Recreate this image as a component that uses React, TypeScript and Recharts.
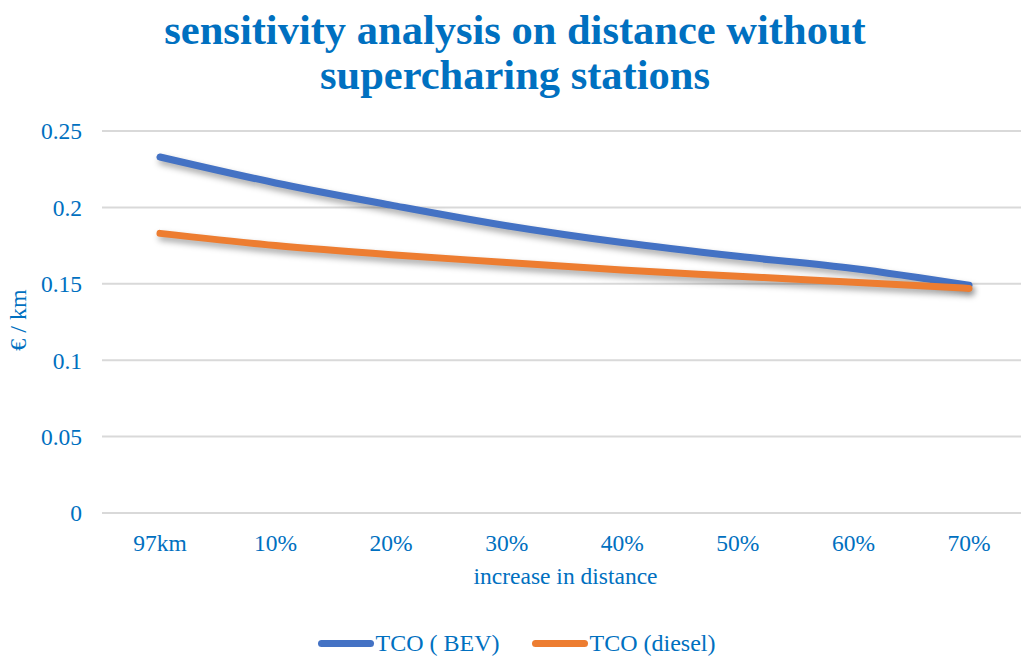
import React from 'react';
import { LineChart, Line, XAxis, YAxis, CartesianGrid, Label } from 'recharts';

const categories = ['97km', '10%', '20%', '30%', '40%', '50%', '60%', '70%'];
const tcoBev = [0.233, 0.216, 0.2015, 0.188, 0.177, 0.168, 0.16, 0.149];
const tcoDiesel = [0.183, 0.175, 0.169, 0.164, 0.159, 0.155, 0.151, 0.147];
const yTicks = [0, 0.05, 0.1, 0.15, 0.2, 0.25];

const data = categories.map((name, i) => ({
  name,
  bev: tcoBev[i],
  diesel: tcoDiesel[i],
}));

const BLUE_TEXT = '#0070C0';
const FONT = '"Liberation Serif", "Times New Roman", serif';

const legendItems = [
  { label: 'TCO ( BEV)', color: '#4472C4' },
  { label: 'TCO (diesel)', color: '#ED7D31' },
];

export default function App() {
  return (
    <div style={{ position: 'absolute', left: 0, top: 0, width: 1021, height: 656, background: '#fff', overflow: 'hidden' }}>
      <style>{`.tco-line path { filter: drop-shadow(2px 4px 3px rgba(0,0,0,0.35)); }`}</style>
      <div
        style={{
          position: 'absolute',
          top: 7,
          left: 0,
          width: 1030,
          textAlign: 'center',
          fontFamily: FONT,
          fontWeight: 'bold',
          fontSize: 42.5,
          lineHeight: '45px',
          color: BLUE_TEXT,
        }}
      >
        sensitivity analysis on distance without
        <br />
        supercharing stations
      </div>
      <LineChart
        width={1021}
        height={656}
        data={data}
        margin={{ top: 131, right: 0, bottom: 73, left: 0 }}
      >
        <CartesianGrid vertical={false} stroke="#D9D9D9" strokeWidth={2} />
        <XAxis
          dataKey="name"
          axisLine={false}
          tickLine={false}
          tickSize={0}
          tickMargin={21}
          padding={{ left: 58, right: 52 }}
          tick={{ fill: BLUE_TEXT, fontSize: 23.5, fontFamily: FONT }}
          height={70}
        >
          <Label
            value="increase in distance"
            position="insideBottom"
            offset={0}
            dx={4}
            dy={1}
            style={{ fill: BLUE_TEXT, fontSize: 23.5, fontFamily: FONT }}
          />
        </XAxis>
        <YAxis
          width={102}
          domain={[0, 0.25]}
          ticks={yTicks}
          axisLine={false}
          tickLine={false}
          tickSize={0}
          tickMargin={20}
          tick={{ fill: BLUE_TEXT, fontSize: 23.5, fontFamily: FONT }}
        >
          <Label
            value="€ / km"
            angle={-90}
            position="insideLeft"
            offset={17}
            dy={-2}
            style={{ fill: BLUE_TEXT, fontSize: 24, fontFamily: FONT, textAnchor: 'middle' }}
          />
        </YAxis>
        <Line
          className="tco-line"
          type="monotone"
          dataKey="bev"
          name="TCO ( BEV)"
          stroke="#4472C4"
          strokeWidth={7}
          strokeLinecap="round"
          dot={false}
          activeDot={false}
          isAnimationActive={false}
        />
        <Line
          className="tco-line"
          type="monotone"
          dataKey="diesel"
          name="TCO (diesel)"
          stroke="#ED7D31"
          strokeWidth={7}
          strokeLinecap="round"
          dot={false}
          activeDot={false}
          isAnimationActive={false}
        />
      </LineChart>
      <div
        style={{
          position: 'absolute',
          top: 629,
          left: 0,
          width: 1033,
          display: 'flex',
          justifyContent: 'center',
          fontFamily: FONT,
          fontSize: 24,
          lineHeight: '28px',
          color: BLUE_TEXT,
        }}
      >
        {legendItems.map((item, i) => (
          <div key={item.label} style={{ display: 'flex', alignItems: 'center', marginLeft: i ? 32 : 0 }}>
            <span style={{ width: 56, height: 7, borderRadius: 4, background: item.color, marginRight: 2 }} />
            {item.label}
          </div>
        ))}
      </div>
    </div>
  );
}
